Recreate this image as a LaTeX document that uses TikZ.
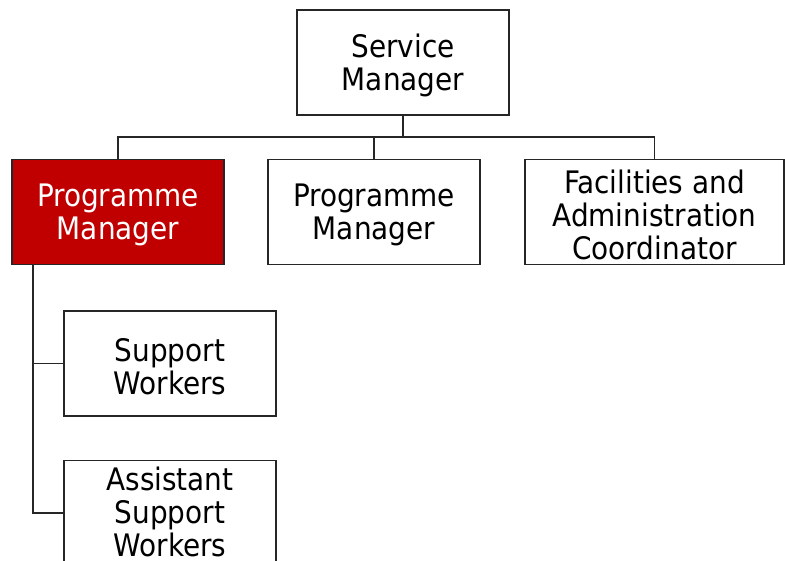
\documentclass[tikz,border=0pt]{standalone}
\usepackage{fontspec}
\setmainfont{DejaVu Sans Condensed}
\definecolor{boxred}{HTML}{C00000}
\definecolor{edge}{HTML}{262626}
\begin{document}
\begin{tikzpicture}[x=1pt,y=-1pt,
  role/.style={draw=edge, line width=1.1pt, rectangle, fill=white,
    minimum width=212pt, minimum height=105pt, inner sep=0pt},
  caption/.style={align=center, inner sep=0pt, yshift=-3pt,
    font=\fontsize{31}{33}\selectfont},
  lead/.style={role, fill=boxred},
  wide/.style={role, minimum width=259pt},
  link/.style={draw=edge, line width=1.1pt}]
\clip (0,0) rectangle (785,560);
\fill[white] (0,0) rectangle (785,560);

% top level
\node[role, label={[caption]center:Service\\Manager}] (sm) at (403,62.5) {};

% second level
\node[lead, label={[caption, text=white]center:Programme\\Manager}] (pm1) at (118,212) {};
\node[role, label={[caption]center:Programme\\Manager}] (pm2) at (374,212) {};
\node[wide, label={[caption]center:Facilities and\\Administration\\Coordinator}] (fac) at (654.5,212) {};

% third level
\node[role, label={[caption]center:Support\\Workers}] (sw) at (170,363.5) {};
\node[role, label={[caption, yshift=4pt]center:Assistant\\Support\\Workers}] (asw) at (170,513) {};

% connectors
\coordinate (bus) at (0,137);
\coordinate (spine) at (33,265);
\draw[link] (sm.south) -- (sm.south |- bus) -| (pm1.north);
\draw[link] (sm.south |- bus) -| (pm2.north);
\draw[link] (sm.south |- bus) -| (fac.north);
\draw[link] (spine) |- (sw.west);
\draw[link] (spine) |- (asw.west);
\end{tikzpicture}
\end{document}
